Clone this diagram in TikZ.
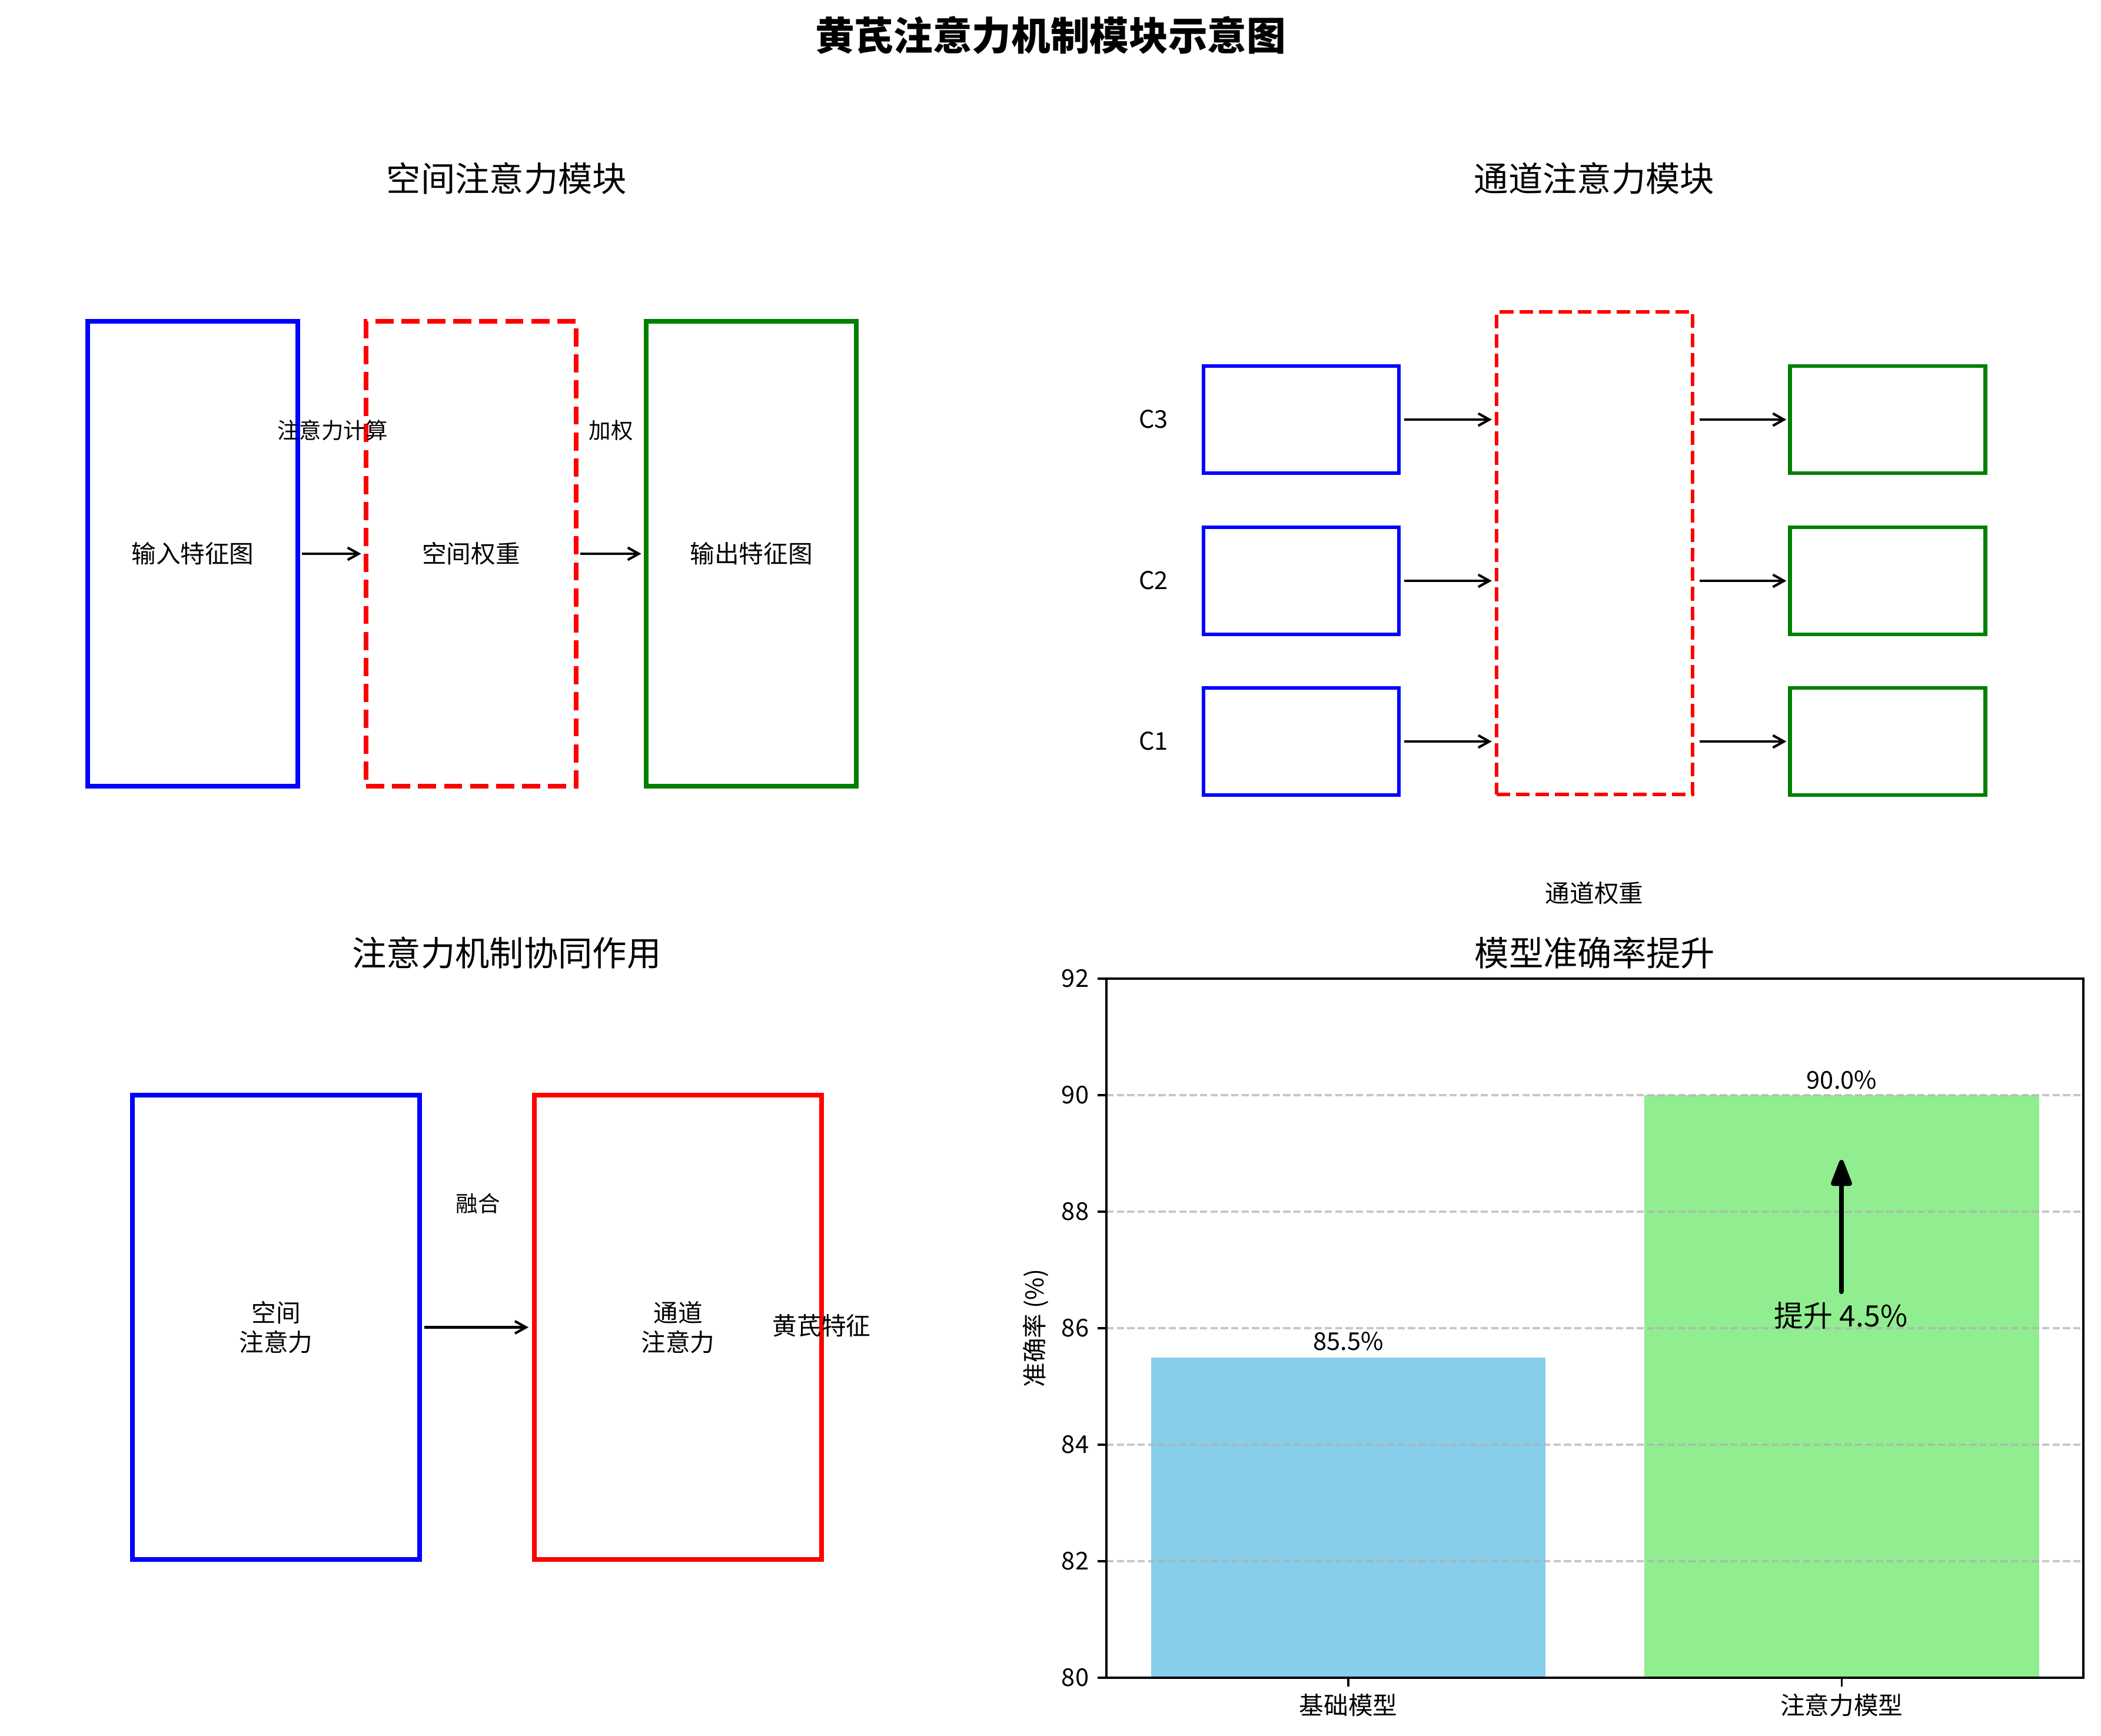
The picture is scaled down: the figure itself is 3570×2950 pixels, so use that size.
\documentclass[tikz,border=0pt]{standalone}
\usepackage{fontspec}
\setmainfont{Noto Sans CJK SC}
\usetikzlibrary{arrows.meta}
\definecolor{mplblue}{rgb}{0,0,1}
\definecolor{mplred}{rgb}{1,0,0}
\definecolor{mplgreen}{rgb}{0,0.502,0}
\definecolor{skyblue}{HTML}{87CEEB}
\definecolor{lightgreen}{HTML}{90EE90}
\definecolor{gridgray}{HTML}{B0B0B0}
\tikzset{
 txt/.style={inner sep=0pt, font=\fontsize{10}{12}\selectfont, align=center},
 lbl/.style={inner sep=0pt, font=\fontsize{9}{11}\selectfont},
 ttl/.style={inner sep=0pt, font=\fontsize{14}{17}\selectfont},
 bigbox/.style={draw, line width=2pt, minimum width=85.68pt, minimum height=189.6pt, inner sep=0pt, font=\fontsize{10}{12}\selectfont, align=center},
 fusebox/.style={draw, line width=2pt, minimum width=117.12pt, minimum height=189.36pt, inner sep=0pt, font=\fontsize{10}{12}\selectfont, align=center},
 chbox/.style={draw, line width=1.5pt, minimum width=79.68pt, minimum height=43.68pt, inner sep=0pt},
 chred/.style={draw=mplred, line width=1.5pt, dash pattern=on 5.55pt off 2.4pt, minimum width=79.92pt, minimum height=196.8pt, inner sep=0pt},
 reddash/.style={dash pattern=on 7.4pt off 3.2pt},
 arr/.style={-{Straight Barb[length=4.5pt,width=5pt]}, line width=1pt},
 gridline/.style={gridgray, opacity=0.7, line width=0.8pt, dash pattern=on 2.96pt off 1.28pt},
 spine/.style={line width=0.8pt, black},
}
\begin{document}
\begin{tikzpicture}[x=0.24pt,y=-0.24pt]
\useasboundingbox (0,0) rectangle (3570,2950);

% main title
\node[inner sep=0pt, font=\fontsize{16}{19}\selectfont\bfseries] (maintitle) at (1785,60) {黄芪注意力机制模块示意图};

% ---------- spatial attention ----------
\node[ttl] (t1) at (861,303) {空间注意力模块};
\node[bigbox, draw=mplblue] (in) at (327.5,941) {输入特征图};
\node[bigbox, draw=mplred, reddash] (sw) at (800.5,941) {空间权重};
\node[bigbox, draw=mplgreen] (out) at (1276.5,941) {输出特征图};
\draw[arr, shorten <=0.7pt, shorten >=1pt] (in.east) -- (sw.west);
\draw[arr, shorten <=0.7pt, shorten >=1pt] (sw.east) -- (out.west);
\node[lbl] (l1) at (565,731) {注意力计算};
\node[lbl] (l2) at (1038,731) {加权};

% ---------- channel attention ----------
\node[ttl] (t2) at (2709,303) {通道注意力模块};
\node[chred] (cw) at (2709.5,940) {};
\node[chbox, draw=mplblue] (b3) at (2211,713) {};
\node[chbox, draw=mplblue] (b2) at (2211,987) {};
\node[chbox, draw=mplblue] (b1) at (2211,1260) {};
\node[chbox, draw=mplgreen] (g3) at (3207.5,713) {};
\node[chbox, draw=mplgreen] (g2) at (3207.5,987) {};
\node[chbox, draw=mplgreen] (g1) at (3207.5,1260) {};
\node[txt] (c3) at (1960,712) {C3};
\node[txt] (c2) at (1960,986) {C2};
\node[txt] (c1) at (1960,1259) {C1};
\foreach \b/\g in {b3/g3,b2/g2,b1/g1}{
  \draw[arr, shorten <=1.4pt, shorten >=1.2pt] (\b.east) -- (\b.east -| cw.west);
  \draw[arr, shorten <=2.1pt, shorten >=0.7pt] (\g.west -| cw.east) -- (\g.west);
}
\node[txt] (cwl) at (2709,1518) {通道权重};

% ---------- synergy ----------
\node[ttl] (t3) at (861,1619) {注意力机制协同作用};
\node[fusebox, draw=mplblue] (sp) at (469,2255.5) {空间\\注意力};
\node[fusebox, draw=mplred] (ch) at (1152,2255.5) {通道\\注意力};
\draw[arr, shorten <=1pt, shorten >=1.4pt] (sp.east) -- (ch.west);
\node[lbl] (fu) at (812,2045) {融合};
\node[txt] (hq) at (1396,2253) {黄芪特征};

% ---------- bar chart ----------
\node[ttl] (t4) at (2710,1619) {模型准确率提升};
\fill[skyblue] (1955.5,2306.5) rectangle (2626.2,2851);
\fill[lightgreen] (2793.8,1861) rectangle (3464.6,2851);
\foreach \yy in {2653,2455,2257,2059,1861}{
  \draw[gridline] (1880,\yy) -- (3540,\yy);
}
\draw[spine] (1880,1663) rectangle (3540,2851);
\foreach \v/\yy in {80/2851,82/2653,84/2455,86/2257,88/2059,90/1861,92/1663}{
  \draw[spine] (1880,\yy) -- (1865.4,\yy);
  \node[txt, anchor=east] (yt\v) at (1851,\yy) {\v};
}
\draw[spine] (2291,2851) -- (2291,2865.6);
\draw[spine] (3129.2,2851) -- (3129.2,2865.6);
\node[txt] (xt1) at (2291,2898) {基础模型};
\node[txt] (xt2) at (3129.2,2898) {注意力模型};
\node[txt, rotate=90] (ylab) at (1760,2257) {准确率 (\%)};
\node[txt] (v1) at (2291,2279) {85.5\%};
\node[txt] (v2) at (3129.5,1835) {90.0\%};
\coordinate (arrS) at (3129,2195);
\coordinate (arrE) at (3129,1971);
\draw[line width=1.92pt, line cap=round, -{Triangle[length=12.5pt,width=9pt,round]}] (arrS) -- (arrE);
\node[inner sep=0pt, font=\fontsize{12}{14}\selectfont] (gain) at (3128,2236) {提升 4.5\%};
\end{tikzpicture}
\end{document}
